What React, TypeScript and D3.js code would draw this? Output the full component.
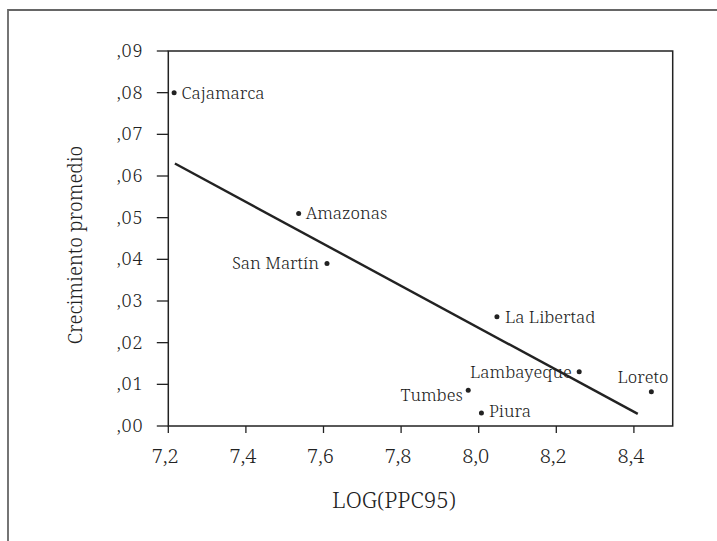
import React from 'react';
import * as d3 from 'd3';

const regions: string[] = ['Cajamarca', 'Amazonas', 'San Martín', 'La Libertad', 'Lambayeque', 'Loreto', 'Tumbes', 'Piura'];
const logPpc: number[] = [7.215, 7.536, 7.609, 8.047, 8.259, 8.445, 7.973, 8.007];
const growth: number[] = [0.08, 0.051, 0.039, 0.0262, 0.013, 0.0082, 0.0086, 0.0031];

// fitted line (end points)
const fitX: number[] = [7.217, 8.41];
const fitY: number[] = [0.063, 0.0029];

const xTicks: number[] = [7.2, 7.4, 7.6, 7.8, 8.0, 8.2, 8.4];
const yTicks: number[] = [0, 0.01, 0.02, 0.03, 0.04, 0.05, 0.06, 0.07, 0.08, 0.09];

// label placement next to each dot
const labelPos: Record<string, { dx: number; dy: number; anchor: string }> = {
  Cajamarca: { dx: 7.5, dy: 6.5, anchor: 'start' },
  Amazonas: { dx: 7, dy: 5.5, anchor: 'start' },
  'San Martín': { dx: -8, dy: 5.5, anchor: 'end' },
  'La Libertad': { dx: 8, dy: 5.7, anchor: 'start' },
  Lambayeque: { dx: -7.5, dy: 6.5, anchor: 'end' },
  Loreto: { dx: 17, dy: -9, anchor: 'end' },
  Tumbes: { dx: -5.5, dy: 10.5, anchor: 'end' },
  Piura: { dx: 7.5, dy: 3.5, anchor: 'start' },
};

const font = '"Noto Serif", serif';
const ink = '#222';

const App: React.FC = () => {
  const width = 717;
  const height = 541;
  const left = 168.3;
  const right = 672.7;
  const top = 51;
  const bottom = 426;

  const x = d3.scaleLinear().domain([7.2, 8.5]).range([left, right]);
  const y = d3.scaleLinear().domain([0, 0.09]).range([bottom, top]);

  const fmtY = (v: number) => d3.format('.2f')(v).replace(/^0/, '').replace('.', ',');
  const fmtX = (v: number) => d3.format('.1f')(v).replace('.', ',');

  const fit = d3
    .line<number>()
    .x((d) => x(d))
    .y((_, i) => y(fitY[i]));

  return (
    <svg
      width={width}
      height={height}
      style={{ position: 'absolute', left: 0, top: 0, background: '#fff', fontFamily: font, fontWeight: 360 }}
      fill={ink}
    >
      {/* outer frame (only top and left edges visible) */}
      <path d={`M8,${height} V10 H${width}`} fill="none" stroke="#666" strokeWidth={1.8} />

      {/* plot box */}
      <rect x={left} y={top} width={right - left} height={bottom - top} fill="none" stroke={ink} strokeWidth={1.5} />

      {/* y axis */}
      {yTicks.map((t) => (
        <g key={`y${t}`}>
          <line x1={left - 11.5} x2={left} y1={y(t)} y2={y(t)} stroke={ink} strokeWidth={1.3} />
          <text x={left - 25} y={y(t) + 6} textAnchor="end" fontSize={18} letterSpacing={0.8}>
            {fmtY(t)}
          </text>
        </g>
      ))}

      {/* x axis */}
      {xTicks.map((t) => (
        <g key={`x${t}`}>
          <line x1={x(t)} x2={x(t)} y1={bottom} y2={bottom + 7} stroke={ink} strokeWidth={1.3} />
          <text x={x(t) - 3} y={bottom + 37} textAnchor="middle" fontSize={20}>
            {fmtX(t)}
          </text>
        </g>
      ))}

      {/* regression line */}
      <path d={fit(fitX) || ''} fill="none" stroke={ink} strokeWidth={2.4} />

      {/* points */}
      {regions.map((r, i) => {
        const p = labelPos[r];
        return (
          <g key={r}>
            <circle cx={x(logPpc[i])} cy={y(growth[i])} r={2.5} fill={ink} />
            <text
              x={x(logPpc[i]) + p.dx}
              y={y(growth[i]) + p.dy}
              textAnchor={p.anchor}
              fontSize={17}
            >
              {r}
            </text>
          </g>
        );
      })}

      {/* axis titles */}
      <text x={394} y={508} textAnchor="middle" fontSize={22.5}>
        LOG(PPC95)
      </text>
      <text transform={`translate(82,245) rotate(-90)`} textAnchor="middle" fontSize={19.3}>
        Crecimiento promedio
      </text>
    </svg>
  );
};

export default App;
